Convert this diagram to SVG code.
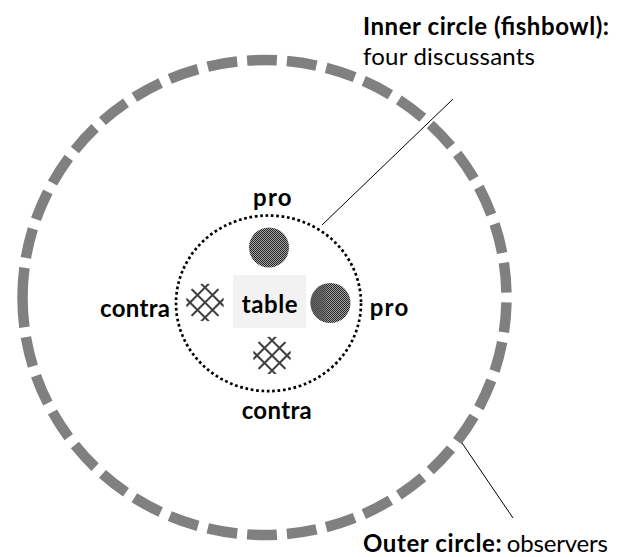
<svg xmlns="http://www.w3.org/2000/svg" xmlns:xlink="http://www.w3.org/1999/xlink" width="622" height="557" viewBox="0 0 622 557">
  <style>
    .lbl { font-family: Lato, "Open Sans", "Liberation Sans", sans-serif; font-size: 24px; font-weight: bold; fill: #000; }
    .hdr { font-family: Lato, "Open Sans", "Liberation Sans", sans-serif; font-size: 24px; fill: #000; }
    .b { font-weight: bold; }
    .leader { stroke: #000; stroke-width: 1; fill: none; }
  </style>
  <defs>
    <pattern id="checker" width="2" height="2" patternUnits="userSpaceOnUse">
      <rect width="2" height="2" fill="#a8a8a8"/>
      <rect width="1" height="1" fill="#222"/>
      <rect x="1" y="1" width="1" height="1" fill="#222"/>
    </pattern>
    <linearGradient id="shade" x1="0" y1="0" x2="1" y2="0">
      <stop offset="0" stop-color="#555" stop-opacity="0.9"/>
      <stop offset="0.35" stop-color="#555" stop-opacity="0.6"/>
      <stop offset="0.45" stop-color="#555" stop-opacity="0"/>
    </linearGradient>
    <clipPath id="latClip"><circle cx="0" cy="0" r="19"/></clipPath>
    <g id="lattice" clip-path="url(#latClip)" stroke="#404040" stroke-width="2" fill="none">
      <line x1="-22" y1="7" x2="22" y2="-37"/>
      <line x1="-22" y1="22" x2="22" y2="-22"/>
      <line x1="-22" y1="37" x2="22" y2="-7"/>
      <line x1="-22" y1="-7" x2="22" y2="37"/>
      <line x1="-22" y1="-22" x2="22" y2="22"/>
      <line x1="-22" y1="-37" x2="22" y2="7"/>
    </g>
  </defs>

  <rect width="622" height="557" fill="#fff"/>

  <g id="outer-circle">
    <path d="M22.5,297.5 A242,237.5 0 1 1 506.5,297.5 A242,237.5 0 1 1 22.5,297.5 Z" pathLength="1510" fill="none" stroke="#808080" stroke-width="10.5" stroke-dasharray="30 10"/>
  </g>

  <g id="inner-circle">
    <ellipse cx="268.5" cy="303.3" rx="92.5" ry="87.8" fill="none" stroke="#000" stroke-width="2.7" stroke-dasharray="2.7 2.7"/>
  </g>

  <g id="table">
    <rect x="233" y="275" width="73" height="53" fill="#f2f2f2"/>
    <text class="lbl" x="269.7" y="313.3" text-anchor="middle" textLength="56">table</text>
  </g>

  <g id="pro-top">
    <circle cx="269" cy="247.5" r="20" fill="url(#checker)"/>
  </g>
  <g id="pro-right">
    <circle cx="330.5" cy="303" r="20" fill="url(#checker)"/>
    <circle cx="330.5" cy="303" r="20" fill="url(#shade)"/>
  </g>
  <g id="contra-left">
    <use xlink:href="#lattice" href="#lattice" transform="translate(205,302.5)"/>
  </g>
  <g id="contra-bottom">
    <use xlink:href="#lattice" href="#lattice" transform="translate(272,355.5)"/>
  </g>

  <g id="labels">
    <text class="lbl" x="272.3" y="206" text-anchor="middle" textLength="38.7">pro</text>
    <text class="lbl" x="389" y="316" text-anchor="middle" textLength="38.7">pro</text>
    <text class="lbl" x="135" y="316.7" text-anchor="middle" textLength="70">contra</text>
    <text class="lbl" x="276.7" y="419.3" text-anchor="middle" textLength="70">contra</text>
  </g>

  <g id="inner-caption">
    <text class="hdr b" x="363" y="35" textLength="246">Inner circle (fishbowl):</text>
    <text class="hdr" x="363" y="65" textLength="172">four discussants</text>
  </g>

  <g id="outer-caption">
    <text class="hdr" y="552"><tspan class="b" x="363" textLength="138.7">Outer circle:</tspan><tspan x="506.7" textLength="101.3">observers</tspan></text>
  </g>

  <g id="connectors">
    <line class="leader" x1="453" y1="99" x2="322" y2="225"/>
    <line class="leader" x1="462" y1="443" x2="513" y2="518"/>
  </g>
</svg>
